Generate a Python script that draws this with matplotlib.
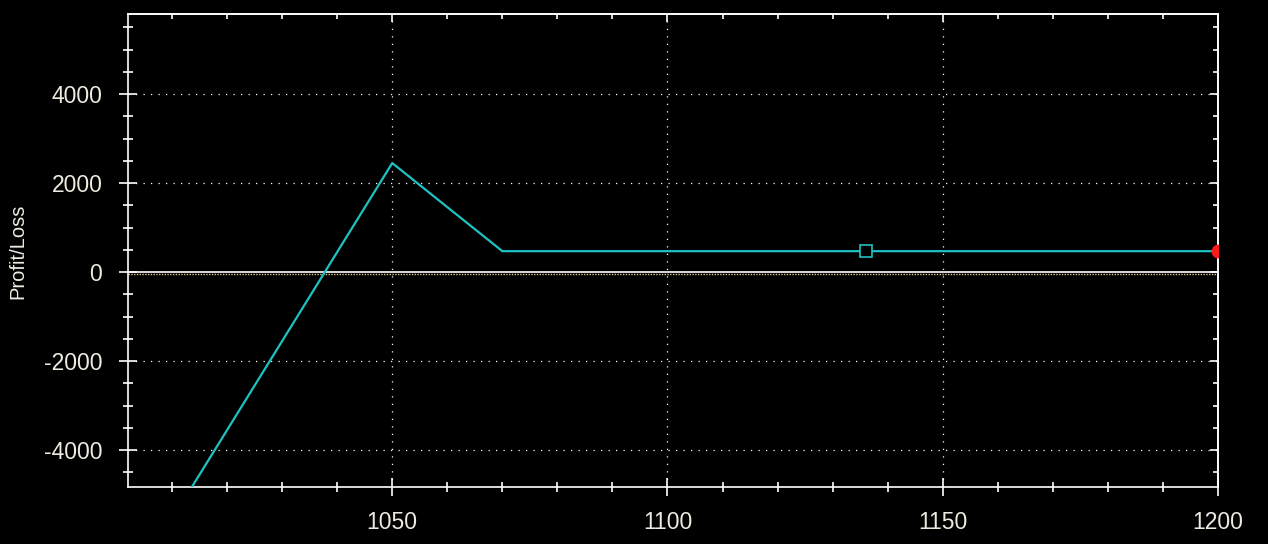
import matplotlib
matplotlib.use("Agg")
import matplotlib.pyplot as plt
import matplotlib.transforms as mtransforms
from matplotlib.ticker import MultipleLocator

# Data
price = [1000, 1050, 1070, 1200]
pnl = [-7550, 2450, 470, 470]
current_price = [1136]
current_pnl = [470]
end_price = [1200]
end_pnl = [470]
x_ticks = [1050, 1100, 1150, 1200]
y_ticks = [-4000, -2000, 0, 2000, 4000]

plt.rcParams['font.family'] = ['Liberation Sans', 'DejaVu Sans']
plt.rcParams['axes.unicode_minus'] = False
fg = '#efebe0'

fig = plt.figure(figsize=(12.68, 5.44), dpi=100, facecolor='black')
ax = fig.add_axes([128/1268, 1 - 487/544, (1218-128)/1268, (487-14)/544])
ax.set_facecolor('black')

ax.set_xlim(1002, 1200)
ax.set_ylim(-4830, 5800)

# grid
for xv in x_ticks[:-1]:
    ax.axvline(xv, color='white', lw=0.9, ls=(0, (1, 5)), zorder=1)
for yv in y_ticks:
    if yv != 0:
        ax.axhline(yv, color='white', lw=0.9, ls=(0, (1, 5)), zorder=1)

# zero line (white solid + tan dotted just below)
ax.axhline(0, color='white', lw=1.2, zorder=2)
off = mtransforms.offset_copy(ax.transData, fig=fig, x=0, y=-1.6, units='points')
ax.plot([1002, 1200], [0, 0], color='#d9c58f', lw=1.0, ls=(0, (1, 1)),
        transform=off, zorder=2)

ax.plot(price, pnl, color='#1fc2c2', lw=1.6, zorder=3)
ax.plot(current_price, current_pnl, marker='s', ms=8.5, mfc='black',
        mec='#1fc2c2', mew=1.2, ls='none', zorder=4)
ax.plot(end_price, end_pnl, marker='o', ms=9, color='#ff1a1a', ls='none',
        zorder=5, clip_on=True)

for s in ax.spines.values():
    s.set_color('white')
    s.set_linewidth(1.2)

ax.set_xticks(x_ticks)
ax.set_yticks(y_ticks)
ax.xaxis.set_minor_locator(MultipleLocator(10))
ax.yaxis.set_minor_locator(MultipleLocator(500))
ax.tick_params(which='major', direction='inout', length=13, width=1.2,
               colors='white', labelcolor=fg, labelsize=16.5)
ax.tick_params(which='minor', direction='inout', length=6.5, width=1.2,
               colors='white')
ax.tick_params(axis='x', which='major', pad=11)
ax.tick_params(axis='y', which='major', pad=12)

# top and right ticks inward
secx = ax.secondary_xaxis('top')
secx.set_xticks(x_ticks)
secx.xaxis.set_minor_locator(MultipleLocator(10))
secx.tick_params(which='major', direction='in', length=6, width=1.2,
                 colors='white', labeltop=False)
secx.tick_params(which='minor', direction='in', length=3.5, width=1.2,
                 colors='white')
secx.set_xticklabels([])
secy = ax.secondary_yaxis('right')
secy.set_yticks(y_ticks)
secy.yaxis.set_minor_locator(MultipleLocator(500))
secy.tick_params(which='major', direction='in', length=6, width=1.2,
                 colors='white', labelright=False)
secy.tick_params(which='minor', direction='in', length=3.5, width=1.2,
                 colors='white')
secy.set_yticklabels([])
for sa in (secx, secy):
    for s in sa.spines.values():
        s.set_color('white')
        s.set_linewidth(1.2)

fig.text(18/1268, 1 - 251/544, 'Profit/Loss', color=fg, fontsize=14.5,
         rotation=90, ha='center', va='center')

fig.savefig('out.png', dpi=100, facecolor='black')
